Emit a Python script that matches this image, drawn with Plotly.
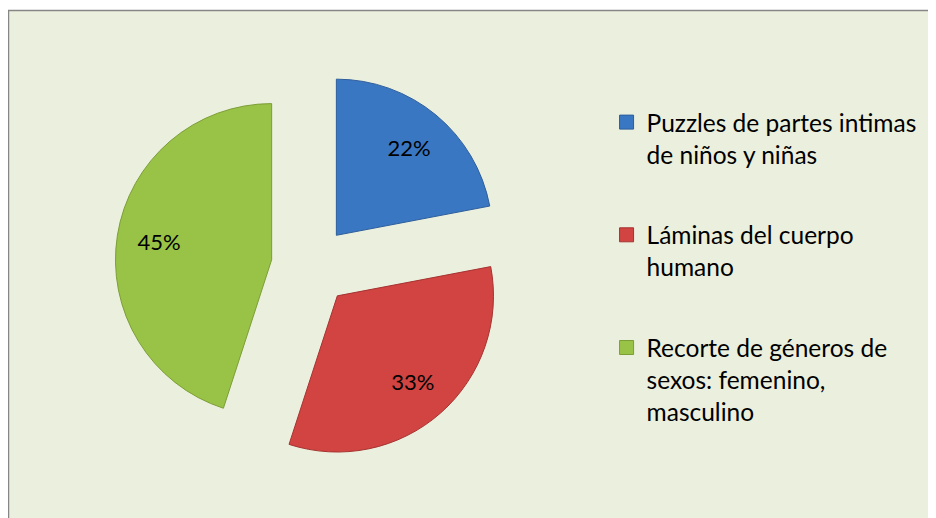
import plotly.graph_objects as go

categories = [
    "Puzzles de partes intimas<br>de niños y niñas",
    "Láminas del cuerpo<br>humano",
    "Recorte de géneros de<br>sexos: femenino,<br>masculino",
]
values = [22, 33, 45]
slice_colors = ["#3a77c3", "#d14441", "#99c346"]
edge_colors = ["#2d5e9c", "#a63331", "#7b9e36"]

FONT = "Lato, Carlito, sans-serif"
pull = [0.255] * len(values)
# page is rendered with an 8px body margin; the pie domain compensates for that
domain = dict(x=[0.1143, 0.5331], y=[0.1236, 0.8803])

fig = go.Figure()

# the pie itself (legend is drawn by the proxy traces below)
fig.add_trace(
    go.Pie(
        labels=categories,
        values=values,
        sort=False,
        direction="clockwise",
        rotation=0,
        pull=pull,
        marker=dict(colors=slice_colors, line=dict(color=edge_colors, width=1)),
        textinfo="none",
        domain=domain,
        showlegend=False,
        hoverinfo="label+percent",
    )
)

# transparent ring carrying the percentage labels further out in each slice
fig.add_trace(
    go.Pie(
        labels=categories,
        values=values,
        sort=False,
        direction="clockwise",
        rotation=0,
        pull=pull,
        hole=0.46,
        marker=dict(colors=["rgba(0,0,0,0)"] * len(values), line=dict(width=0)),
        texttemplate="%{percent:.0%}",
        textposition="inside",
        insidetextorientation="horizontal",
        textfont=dict(family=FONT, size=22, color="#000000"),
        domain=domain,
        showlegend=False,
        hoverinfo="skip",
    )
)

# legend entries, one group per category so the vertical gaps can be set
for name, col, edge in zip(categories, slice_colors, edge_colors):
    fig.add_trace(
        go.Scatter(
            x=[None],
            y=[None],
            mode="markers",
            name=name,
            legendgroup=name,
            marker=dict(symbol="square", size=14, color=col, line=dict(color=edge, width=1)),
            hoverinfo="skip",
        )
    )

fig.update_layout(
    width=936,
    height=518,
    margin=dict(l=0, r=0, t=0, b=0),
    paper_bgcolor="#ffffff",
    plot_bgcolor="rgba(0,0,0,0)",
    xaxis=dict(visible=False),
    yaxis=dict(visible=False),
    showlegend=True,
    legend=dict(
        x=0.6395,
        y=0.823,
        xanchor="left",
        yanchor="top",
        valign="top",
        tracegroupgap=46,
        bgcolor="rgba(0,0,0,0)",
        font=dict(family=FONT, size=24.5, color="#000000"),
    ),
    shapes=[
        dict(
            type="rect",
            xref="paper",
            yref="paper",
            x0=0.5 / 936,
            x1=1.05,
            y0=-0.05,
            y1=1 - 2.5 / 518,
            line=dict(color="#868686", width=1.5),
            fillcolor="#ebefdd",
            layer="below",
        )
    ],
)

fig.write_html("out.html")
